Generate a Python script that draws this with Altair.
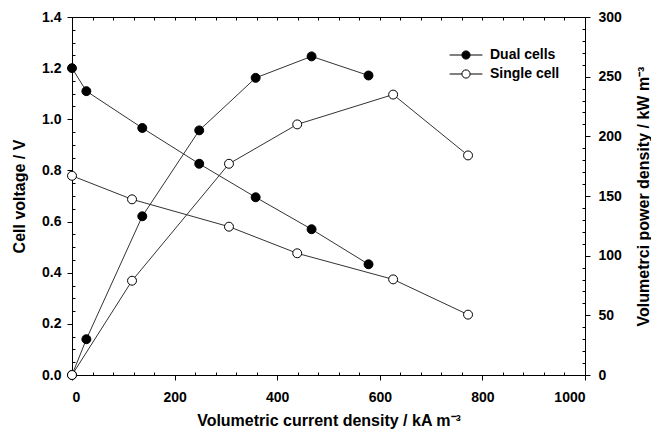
import altair as alt
import pandas as pd

# ---- data ----
series_names = ["Dual cells", "Single cell"]
dual_x = [0, 28, 137, 248, 358, 467, 578]
dual_v = [1.20, 1.11, 0.966, 0.826, 0.695, 0.570, 0.433]
dual_p = [0, 30, 133, 205, 249, 267, 251]
single_x = [0, 117, 306, 439, 626, 772]
single_v = [0.779, 0.687, 0.580, 0.476, 0.374, 0.236]
single_p = [0, 79, 177, 210, 235, 184]

x_major = [0, 200, 400, 600, 800, 1000]
x_minor = [40 * i for i in range(26) if (40 * i) % 200 != 0]
x_all = [40 * i for i in range(26)]
v_major = [0.0, 0.2, 0.4, 0.6, 0.8, 1.0, 1.2, 1.4]
v_minor = [round(0.05 * i, 2) for i in range(29) if i % 4 != 0]
p_major = [0, 50, 100, 150, 200, 250, 300]
p_minor = [10 * i for i in range(31) if i % 5 != 0]

rows_v, rows_p = [], []
for name, xs_, vs_, ps_ in [(series_names[0], dual_x, dual_v, dual_p),
                            (series_names[1], single_x, single_v, single_p)]:
    for a, b, c in zip(xs_, vs_, ps_):
        rows_v.append({"x": a, "v": b, "series": name})
        rows_p.append({"x": a, "p": c, "series": name})
df_v = pd.DataFrame(rows_v)
df_p = pd.DataFrame(rows_p)

W, H = 513, 358
FONT = "Liberation Sans"
TITLE_X = "Volumetric current density / kA m\u207b\u00b3"
TITLE_L = "Cell voltage / V"
TITLE_R = "Volumetrci power density / kW m\u207b\u00b3"

xs = alt.Scale(domain=[0, 1000], nice=False, zero=False)
vsc = alt.Scale(domain=[0, 1.4], nice=False)
psc = alt.Scale(domain=[0, 300], nice=False)
fill_scale = alt.Scale(domain=series_names, range=["black", "white"])

SYM = "M-2,0L-0.5,0M0.5,0L2,0M0.5,0A0.5,0.5,0,1,1,-0.5,0A0.5,0.5,0,1,1,0.5,0Z"
legend = alt.Legend(title=None, orient="none", legendX=385, legendY=29,
                    symbolType=SYM, symbolSize=269, symbolStrokeColor="black",
                    symbolStrokeWidth=1, labelFontSize=14, labelFont=FONT,
                    labelFontWeight="bold", labelOffset=15, rowPadding=3,
                    padding=0, labelColor="black")

ax_none = None

v_line = alt.Chart(df_v).mark_line(color="#333333", strokeWidth=1).encode(
    x=alt.X("x:Q", scale=xs, axis=alt.Axis(
        orient="bottom", values=x_major, format="d", tickSize=5,
        labelPadding=10, title=TITLE_X, titlePadding=8)),
    y=alt.Y("v:Q", scale=vsc, axis=alt.Axis(
        orient="left", values=v_major, format=".1f", tickSize=5,
        labelPadding=6, title=TITLE_L, titlePadding=14)),
    detail="series:N",
)

p_line = alt.Chart(df_p).mark_line(color="#333333", strokeWidth=1).encode(
    x=alt.X("x:Q", scale=xs, axis=ax_none),
    y=alt.Y("p:Q", scale=psc, axis=alt.Axis(
        orient="right", values=p_major, format="d", tickSize=5,
        labelPadding=8, title=TITLE_R, titlePadding=14, titleAngle=270,
        titleBaseline="top")),
    detail="series:N",
)

v_pt = alt.Chart(df_v).mark_point(filled=True, shape="circle", size=80,
                                  stroke="black", strokeWidth=1, opacity=1).encode(
    x=alt.X("x:Q", scale=xs, axis=ax_none),
    y=alt.Y("v:Q", scale=vsc, axis=ax_none),
    fill=alt.Fill("series:N", scale=fill_scale, legend=legend),
)

p_pt = alt.Chart(df_p).mark_point(filled=True, shape="circle", size=80,
                                  stroke="black", strokeWidth=1, opacity=1).encode(
    x=alt.X("x:Q", scale=xs, axis=ax_none),
    y=alt.Y("p:Q", scale=psc, axis=ax_none),
    fill=alt.Fill("series:N", scale=fill_scale, legend=legend),
)

# minor / inward ticks
m1 = alt.Chart(df_v).mark_point(opacity=0).encode(
    x=alt.X("x:Q", scale=xs, axis=alt.Axis(
        orient="top", offset=-H, values=x_minor, tickSize=3, labels=False,
        title=None, domain=False)),
    y=alt.Y("v:Q", scale=vsc, axis=alt.Axis(
        orient="right", offset=-W, values=v_minor, tickSize=3, labels=False,
        title=None, domain=False)),
)
m2 = alt.Chart(df_p).mark_point(opacity=0).encode(
    x=alt.X("x:Q", scale=xs, axis=alt.Axis(
        orient="bottom", offset=-H, values=x_all, tickSize=3, labels=False,
        title=None, domain=False)),
    y=alt.Y("p:Q", scale=psc, axis=alt.Axis(
        orient="left", offset=-W, values=p_minor, tickSize=3, labels=False,
        title=None, domain=False)),
)

chart = alt.layer(v_line, p_line, v_pt, p_pt, m1, m2).resolve_scale(
    y="independent"
).resolve_axis(
    x="independent", y="independent"
).properties(
    width=W, height=H,
    autosize=alt.AutoSizeParams(type="none"),
    padding={"left": 64, "top": 9, "right": 66, "bottom": 54},
).configure_view(
    stroke="black", strokeWidth=1
).configure_axis(
    grid=False, domain=False, tickColor="black", tickWidth=1,
    labelFont=FONT, labelFontSize=14, labelFontWeight="bold", labelColor="black",
    titleFont=FONT, titleFontSize=16, titleFontWeight="bold", titleColor="black",
)

chart.save("out.html", embed_options={"renderer": "svg", "actions": False})
